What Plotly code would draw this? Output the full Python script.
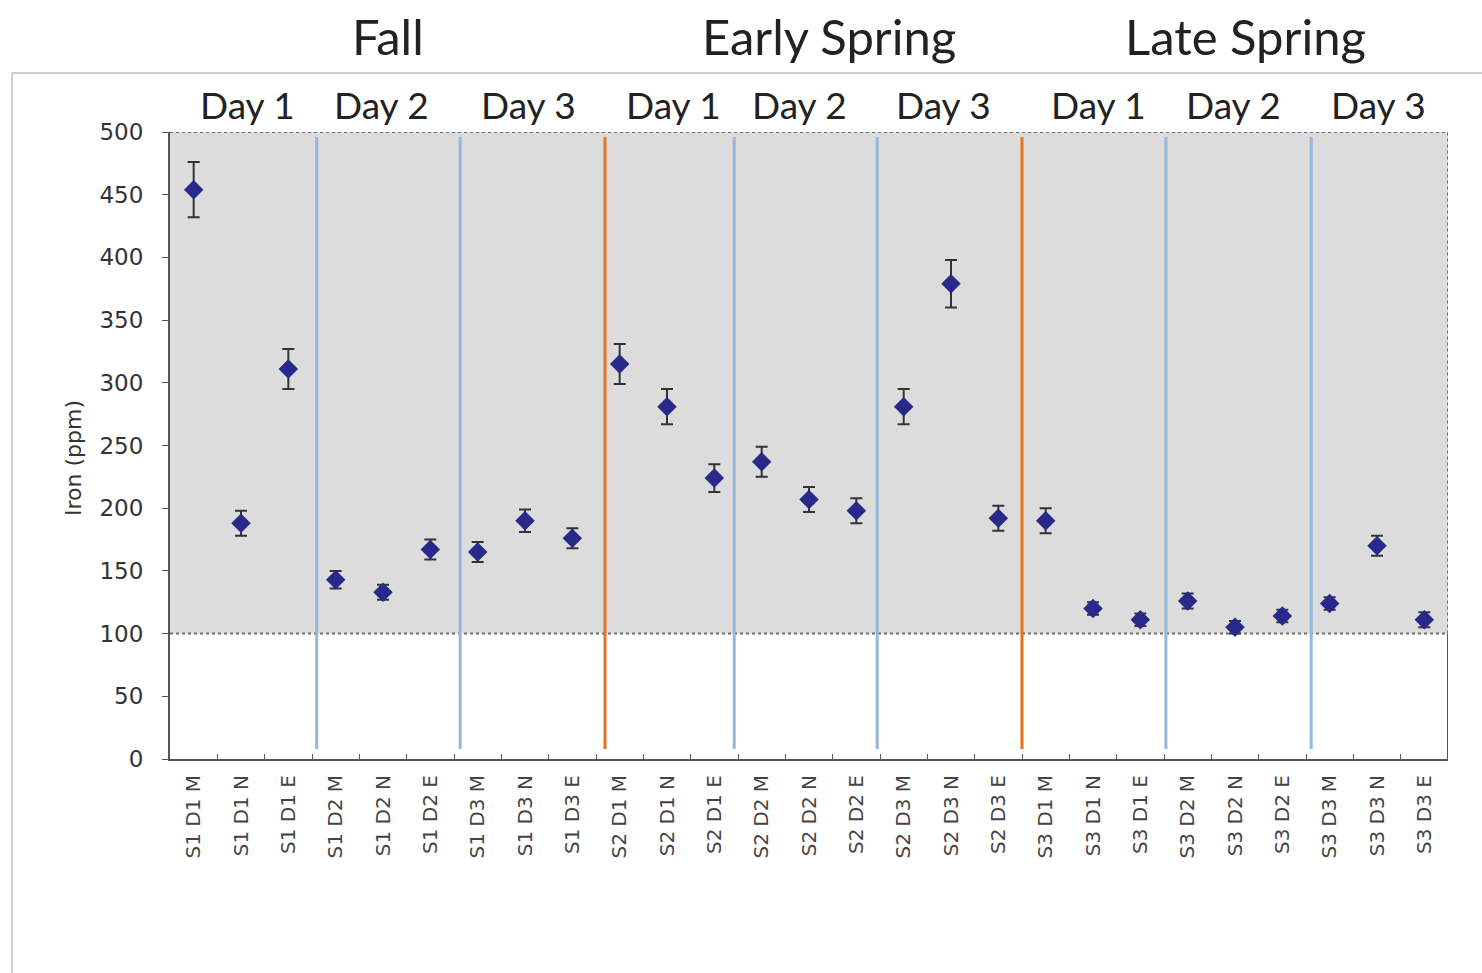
import plotly.graph_objects as go

# Sample labels: season (S1-S3), day (D1-D3), time of day (M, N, E)
categories = [
    "S1 D1 M", "S1 D1 N", "S1 D1 E", "S1 D2 M", "S1 D2 N", "S1 D2 E", "S1 D3 M", "S1 D3 N", "S1 D3 E",
    "S2 D1 M", "S2 D1 N", "S2 D1 E", "S2 D2 M", "S2 D2 N", "S2 D2 E", "S2 D3 M", "S2 D3 N", "S2 D3 E",
    "S3 D1 M", "S3 D1 N", "S3 D1 E", "S3 D2 M", "S3 D2 N", "S3 D2 E", "S3 D3 M", "S3 D3 N", "S3 D3 E",
]
iron_ppm = [
    454, 188, 311, 143, 133, 167, 165, 190, 176,
    315, 281, 224, 237, 207, 198, 281, 379, 192,
    190, 120, 111, 126, 105, 114, 124, 170, 111,
]
iron_err = [
    22, 10, 16, 7, 6, 8, 8, 9, 8,
    16, 14, 11, 12, 10, 10, 14, 19, 10,
    10, 5, 5, 6, 5, 5, 5, 8, 6,
]
seasons = ["Fall", "Early Spring", "Late Spring"]
days = ["Day 1", "Day 2", "Day 3"]
threshold = 100
y_max = 500

# Divider lines between days (category units); every third one splits seasons
divider_at = [2.6, 5.63, 8.69, 11.42, 14.44, 17.5, 20.54, 23.61]

W, H = 1482, 973
L, R, T, B = 170, 34, 132, 214
pw, ph = W - L - R, H - T - B


def px_to_paper_x(px):
    return (px - L) / pw


def px_to_paper_y(py):
    return (H - B - py) / ph


fig = go.Figure()
fig.add_trace(go.Scatter(
    x=categories, y=iron_ppm, mode="markers",
    marker=dict(symbol="diamond", size=15, color="#28298a"),
    error_y=dict(type="data", array=iron_err, visible=True,
                 color="#333333", thickness=2, width=6),
    showlegend=False,
))

shapes = []
n = len(categories)
lo, hi = -0.5, n - 0.5
# Shaded band above the threshold
shapes.append(dict(type="rect", xref="x", yref="y", x0=lo, x1=hi, y0=threshold, y1=y_max,
                   fillcolor="#dcdcdc", line=dict(width=0), layer="below"))
for (x0, x1, y0, y1) in [(lo, hi, threshold, threshold), (lo, hi, y_max, y_max), (hi, hi, threshold, y_max)]:
    shapes.append(dict(type="line", xref="x", yref="y", x0=x0, x1=x1, y0=y0, y1=y1,
                       line=dict(color="#6e6e6e", width=2, dash="dot"), layer="below"))
# Solid right edge below the threshold
shapes.append(dict(type="line", xref="x", yref="y", x0=hi, x1=hi, y0=0, y1=threshold,
                   line=dict(color="#555555", width=2)))

for k, pos in enumerate(divider_at, start=1):
    is_season = k % 3 == 0
    shapes.append(dict(type="line", xref="x", yref="y", x0=pos, x1=pos, y0=8, y1=496,
                       line=dict(color="#e8701e" if is_season else "#94b6dc", width=3)))

# Outer frame lines
shapes.append(dict(type="line", xref="paper", yref="paper",
                   x0=px_to_paper_x(12), x1=px_to_paper_x(W), y0=px_to_paper_y(73), y1=px_to_paper_y(73),
                   line=dict(color="#cfcfcf", width=2)))
shapes.append(dict(type="line", xref="paper", yref="paper",
                   x0=px_to_paper_x(12), x1=px_to_paper_x(12), y0=px_to_paper_y(73), y1=px_to_paper_y(H),
                   line=dict(color="#cfcfcf", width=2)))

annotations = []
head_font = dict(family="Lato, Open Sans, sans-serif", color="#222222")
day_shift = [6, -2, 3, 6, -10, -8, 5, -2, 1]
for g in range(n // 3):
    annotations.append(dict(x=g * 3 + 1, y=px_to_paper_y(104), xref="x", yref="paper",
                            text=days[g % 3], showarrow=False, yanchor="middle",
                            xshift=day_shift[g], font=dict(size=37, **head_font)))
season_shift = [5, 20, 10]
for s, name in enumerate(seasons):
    annotations.append(dict(x=s * 9 + 4, y=px_to_paper_y(36), xref="x", yref="paper",
                            text=name, showarrow=False, yanchor="middle",
                            xshift=season_shift[s], font=dict(size=49, **head_font)))

# Rotated y-axis title
annotations.append(dict(x=px_to_paper_x(73), y=px_to_paper_y(458), xref="paper", yref="paper",
                        text="Iron (ppm)", textangle=-90, showarrow=False,
                        xanchor="center", yanchor="middle",
                        font=dict(family="DejaVu Sans", size=22, color="#333333")))

fig.update_layout(
    width=W, height=H,
    margin=dict(l=L, r=R, t=T, b=B),
    paper_bgcolor="white", plot_bgcolor="white",
    shapes=shapes, annotations=annotations,
    xaxis=dict(
        type="category", range=[lo, hi], showgrid=False, zeroline=False,
        showline=True, linecolor="#555555", linewidth=2,
        ticks="inside", tickson="boundaries", ticklen=5, tickcolor="#555555",
        tickangle=-90, ticklabelstandoff=6,
        tickfont=dict(family="DejaVu Sans", size=20, color="#444444"),
    ),
    yaxis=dict(
        range=[0, y_max], tickvals=list(range(0, y_max + 1, 50)),
        showgrid=False, zeroline=False,
        showline=True, linecolor="#555555", linewidth=2,
        ticks="outside", ticklen=6, tickcolor="#555555", ticklabelstandoff=14,
        tickfont=dict(family="DejaVu Sans", size=23, color="#333333"),
    ),
)

fig.write_html("out.html")
